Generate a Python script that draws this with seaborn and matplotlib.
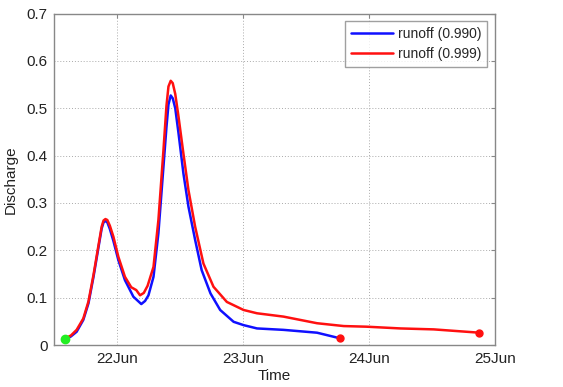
import numpy as np
import pandas as pd
import matplotlib
matplotlib.use("Agg")
import matplotlib.pyplot as plt
import matplotlib.dates as mdates
import seaborn as sns

# Day-of-June (fractional) and discharge values
blue_day = [21.584, 21.63, 21.676, 21.729, 21.77, 21.81, 21.85, 21.875, 21.89, 21.905, 21.92,
            21.94, 21.968, 22.008, 22.06, 22.127, 22.19, 22.22, 22.247, 22.287, 22.326,
            22.366, 22.39, 22.406, 22.424, 22.44, 22.46, 22.486, 22.525, 22.565, 22.618,
            22.67, 22.74, 22.817, 22.924, 23.003, 23.11, 23.32, 23.587, 23.772]
blue_q = [0.013, 0.018, 0.028, 0.053, 0.088, 0.144, 0.207, 0.246, 0.259, 0.262, 0.259,
          0.245, 0.220, 0.179, 0.137, 0.102, 0.0865, 0.093, 0.105, 0.144, 0.236,
          0.376, 0.460, 0.508, 0.527, 0.521, 0.500, 0.447, 0.362, 0.292, 0.222,
          0.158, 0.109, 0.074, 0.049, 0.042, 0.035, 0.032, 0.026, 0.014]

red_day = [21.584, 21.63, 21.676, 21.729, 21.77, 21.81, 21.85, 21.875, 21.89, 21.905, 21.92,
           21.94, 21.968, 22.008, 22.06, 22.11, 22.15, 22.18, 22.21, 22.24, 22.287, 22.326,
           22.366, 22.39, 22.406, 22.424, 22.44, 22.46, 22.486, 22.525, 22.565, 22.618,
           22.684, 22.764, 22.87, 23.003, 23.11, 23.32, 23.587, 23.80, 23.98, 24.25,
           24.515, 24.878]
red_q = [0.014, 0.020, 0.032, 0.056, 0.092, 0.148, 0.211, 0.250, 0.263, 0.266, 0.264,
         0.252, 0.229, 0.186, 0.144, 0.122, 0.116, 0.105, 0.110, 0.125, 0.165, 0.264,
         0.411, 0.505, 0.546, 0.558, 0.553, 0.530, 0.482, 0.404, 0.327, 0.250,
         0.172, 0.123, 0.091, 0.074, 0.067, 0.060, 0.046, 0.040, 0.0387, 0.035,
         0.033, 0.026]

labels = ["runoff (0.990)", "runoff (0.999)"]
base = pd.Timestamp("2013-06-01")

def to_time(days):
    return base + pd.to_timedelta(np.array(days) - 1, unit="D")

df_b = pd.DataFrame({"Time": to_time(blue_day), "Discharge": blue_q})
df_r = pd.DataFrame({"Time": to_time(red_day), "Discharge": red_q})

sns.set_style("white")
plt.rcParams["font.family"] = ["Liberation Sans", "DejaVu Sans"]

fig = plt.figure(figsize=(5.63, 3.87), dpi=100)
ax = fig.add_axes([0.0968, 0.1085, 0.782, 0.8565])

sns.lineplot(data=df_b, x="Time", y="Discharge", ax=ax, color="#1010ff", lw=1.8, label=labels[0])
sns.lineplot(data=df_r, x="Time", y="Discharge", ax=ax, color="#ff1010", lw=1.8, label=labels[1])

ax.plot(df_b["Time"].iloc[[0]], df_b["Discharge"].iloc[[0]], "o", color="#22ee22", ms=6, zorder=5)
ax.plot(df_b["Time"].iloc[[-1]], df_b["Discharge"].iloc[[-1]], "o", color="#ff1010", ms=5, zorder=5)
ax.plot(df_r["Time"].iloc[[-1]], df_r["Discharge"].iloc[[-1]], "o", color="#ff1010", ms=5, zorder=5)

ax.set_xlim(to_time([21.5])[0], to_time([25.0])[0])
ax.set_ylim(0, 0.7)
ax.set_yticks(np.arange(0, 0.71, 0.1))
ax.set_yticklabels(["0", "0.1", "0.2", "0.3", "0.4", "0.5", "0.6", "0.7"])
ax.xaxis.set_major_locator(mdates.DayLocator())
ax.xaxis.set_major_formatter(mdates.DateFormatter("%d%b"))

ax.grid(True, linestyle=(0, (1, 2)), color="#aaaaaa", lw=0.7)
for s in ax.spines.values():
    s.set_color("#888888")
    s.set_linewidth(1.0)
ax.tick_params(direction="in", length=3, color="#888888", labelsize=11, labelcolor="#222222",
               top=True, right=True, pad=5)
ax.set_xlabel("Time", fontsize=11, color="#222222", labelpad=2)
ax.set_ylabel("Discharge", fontsize=11, color="#222222", labelpad=6)

leg = ax.legend(loc="upper right", fontsize=10, frameon=True, fancybox=False,
                edgecolor="#888888", handlelength=3.0, borderaxespad=0.55,
                handletextpad=0.4, labelspacing=0.45, borderpad=0.4)
leg.get_frame().set_linewidth(1.0)

fig.savefig("out.png", dpi=100)
